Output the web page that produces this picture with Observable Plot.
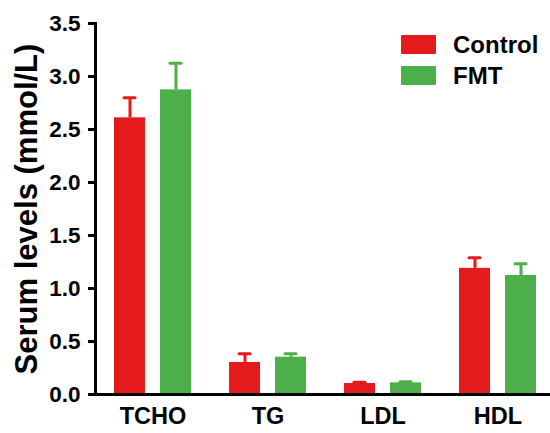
<!DOCTYPE html>
<html>
<head>
<meta charset="utf-8">
<script src="https://cdn.jsdelivr.net/npm/d3@7"></script>
<script src="https://cdn.jsdelivr.net/npm/@observablehq/plot@0.6"></script>
<style>
  html, body { margin: 0; padding: 0; background: #fff; }
  #wrap { position: relative; width: 550px; height: 433px; font-family: "Liberation Sans", Arial, sans-serif; }
  #legend { position: absolute; left: 401px; top: 29px; }
  .row { display: flex; align-items: center; height: 31px; }
  .sw { width: 35px; height: 19px; border-radius: 1px; margin-right: 17px; }
  .lab { font-size: 24px; font-weight: bold; color: #000; }
</style>
</head>
<body>
<div id="wrap"></div>
<script>
const categories = ["TCHO", "TG", "LDL", "HDL"];
const groups = ["Control", "FMT"];
const controlMean = [2.61, 0.302, 0.104, 1.19];
const controlErr = [0.19, 0.082, 0.012, 0.10];
const fmtMean = [2.874, 0.352, 0.11, 1.123];
const fmtErr = [0.25, 0.032, 0.01, 0.11];
const yTicks = [0, 0.5, 1.0, 1.5, 2.0, 2.5, 3.0, 3.5];
const colors = ["#E41A1C", "#4DAF4A"];
const yLabel = "Serum levels (mmol/L)";

const data = [];
categories.forEach((c, i) => {
  data.push({cat: c, group: groups[0], value: controlMean[i], err: controlErr[i]});
  data.push({cat: c, group: groups[1], value: fmtMean[i], err: fmtErr[i]});
});

const font = "Liberation Sans, Arial, sans-serif";

const chart = Plot.plot({
  width: 550,
  height: 433,
  marginLeft: 94,
  marginRight: 0,
  marginTop: 23,
  marginBottom: 39,
  style: {fontFamily: font, color: "#000", background: "#fff"},
  fx: {domain: categories, range: [94, 555], padding: 0, axis: null},
  x: {domain: groups, paddingInner: 0.326, paddingOuter: 0.413, axis: null},
  y: {domain: [0, 3.5]},
  color: {domain: groups, range: colors},
  marks: [
    Plot.barY(data, {fx: "cat", x: "group", y: "value", fill: "group"}),
    Plot.ruleX(data, {fx: "cat", x: "group", y1: "value", y2: d => d.value + d.err, stroke: "group", strokeWidth: 3}),
    Plot.tickY(data, {fx: "cat", x: "group", y: d => d.value + d.err, stroke: "group", strokeWidth: 3, insetLeft: 10, insetRight: 10, strokeLinecap: "round"}),
    Plot.ruleY([0], {strokeWidth: 3, stroke: "#000"}),
    Plot.frame({anchor: "left", facetAnchor: "left", strokeWidth: 3, stroke: "#000"}),
    Plot.axisY({ticks: yTicks, tickFormat: d3.format(".1f"), tickSize: 7, tickPadding: 8, strokeWidth: 3, fontSize: 22.5, fontWeight: "bold", label: null}),
    Plot.axisY({ticks: [], label: yLabel, labelAnchor: "center", labelArrow: "none", labelOffset: 81, fontSize: 31, fontWeight: "bold"}),
    Plot.axisFx({anchor: "bottom", tickSize: 0, tickPadding: 13, fontSize: 23.5, fontWeight: "bold", label: null})
  ]
});

const wrap = document.getElementById("wrap");
wrap.appendChild(chart);

const legend = document.createElement("div");
legend.id = "legend";
groups.forEach((g, i) => {
  const row = document.createElement("div");
  row.className = "row";
  const sw = document.createElement("div");
  sw.className = "sw";
  sw.style.background = colors[i];
  const lab = document.createElement("span");
  lab.className = "lab";
  lab.textContent = g;
  row.appendChild(sw);
  row.appendChild(lab);
  legend.appendChild(row);
});
wrap.appendChild(legend);
</script>
</body>
</html>
